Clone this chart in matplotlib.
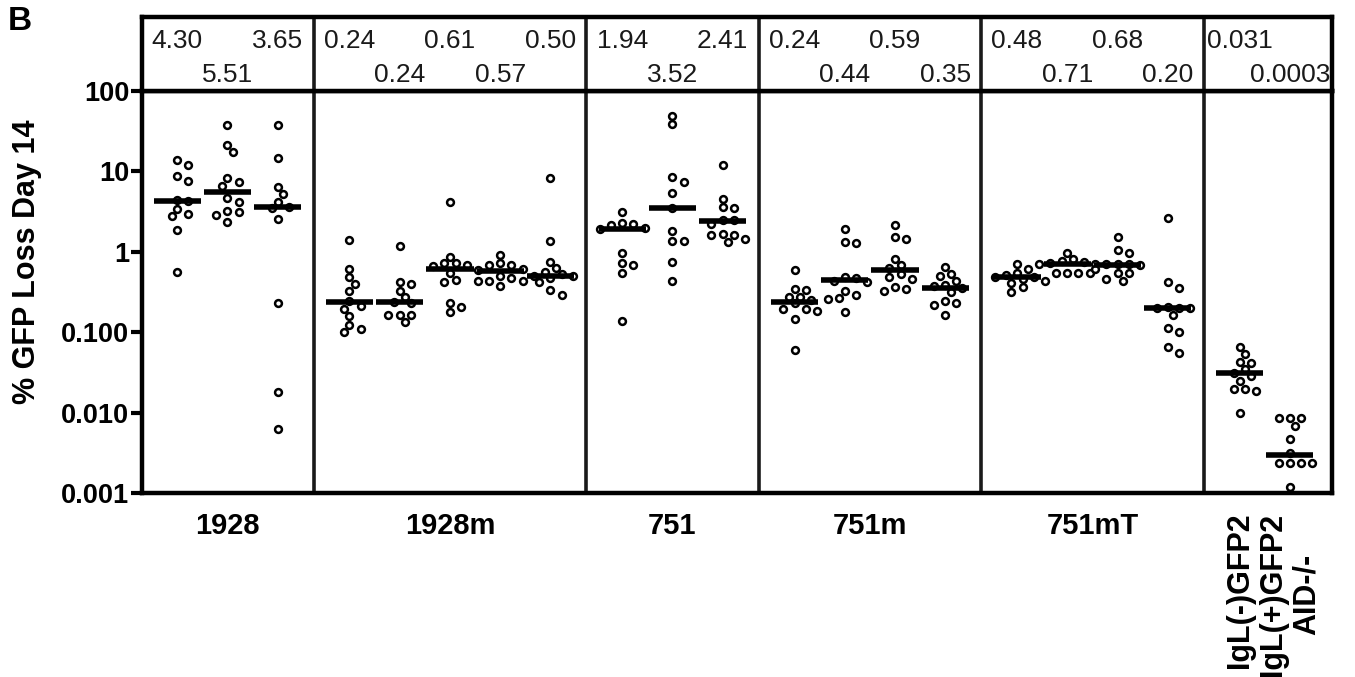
import numpy as np
import matplotlib
matplotlib.use('Agg')
import matplotlib.pyplot as plt

plt.rcParams['font.family'] = ['Liberation Sans', 'DejaVu Sans']

# Boxes (strains) and how many columns each one holds
box_names = ['1928', '1928m', '751', '751m', '751mT', '']
box_sizes = [3, 5, 3, 4, 4, 2]
control_names = ['IgL(-)GFP2', 'IgL(+)GFP2\nAID-/-']

# Medians printed in the header and the bar level for each column
median_labels = ['4.30', '5.51', '3.65',
                 '0.24', '0.24', '0.61', '0.57', '0.50',
                 '1.94', '3.52', '2.41',
                 '0.24', '0.44', '0.59', '0.35',
                 '0.48', '0.71', '0.68', '0.20',
                 '0.031', '0.0003']
median_values = [4.30, 5.51, 3.65,
                 0.24, 0.24, 0.61, 0.57, 0.50,
                 1.94, 3.52, 2.41,
                 0.24, 0.44, 0.59, 0.35,
                 0.48, 0.71, 0.68, 0.20,
                 0.031, 0.003]

# % GFP loss day 14, one list per column
c1928 = [
    [13.9, 12.0, 8.8, 7.6, 4.45, 4.30, 3.41, 2.93, 2.82, 1.87, 0.565],
    [37.5, 21.2, 17.2, 8.19, 7.44, 6.52, 4.63, 4.20, 3.25, 3.16, 2.87, 2.33],
    [37.9, 14.6, 6.33, 5.24, 4.2, 3.65, 3.48, 2.56, 0.233, 0.0182, 0.0063],
]
c1928m = [
    [1.40, 0.615, 0.489, 0.393, 0.324, 0.243, 0.211, 0.195, 0.158, 0.124, 0.111, 0.102],
    [1.18, 0.424, 0.393, 0.324, 0.275, 0.236, 0.232, 0.166, 0.163, 0.166, 0.134],
    [4.21, 0.869, 0.731, 0.717, 0.684, 0.664, 0.538, 0.445, 0.420, 0.228, 0.207, 0.177],
    [0.92, 0.731, 0.678, 0.615, 0.593, 0.678, 0.499, 0.475, 0.432, 0.430, 0.432, 0.374],
    [8.39, 1.36, 0.752, 0.621, 0.565, 0.523, 0.499, 0.499, 0.475, 0.420, 0.334, 0.289],
]
c751 = [
    [3.13, 2.30, 2.20, 2.13, 2.00, 1.94, 0.972, 0.716, 0.676, 0.538, 0.137],
    [49.2, 38.8, 8.55, 7.48, 5.35, 3.52, 1.82, 1.36, 1.36, 0.752, 0.432],
    [11.9, 4.59, 3.65, 3.55, 2.49, 2.49, 2.24, 1.65, 1.62, 1.62, 1.46, 1.32],
]
c751m = [
    [0.586, 0.340, 0.333, 0.275, 0.275, 0.255, 0.232, 0.197, 0.197, 0.186, 0.146, 0.0607],
    [1.94, 1.33, 1.30, 0.489, 0.466, 0.432, 0.419, 0.324, 0.294, 0.267, 0.260, 0.179],
    [2.13, 1.54, 1.43, 0.818, 0.676, 0.621, 0.537, 0.489, 0.461, 0.366, 0.340, 0.324],
    [0.650, 0.537, 0.507, 0.432, 0.381, 0.373, 0.35, 0.315, 0.243, 0.232, 0.221, 0.166],
]
c751mT = [
    [0.710, 0.604, 0.548, 0.508, 0.489, 0.48, 0.461, 0.432, 0.411, 0.363, 0.318],
    [0.973, 0.820, 0.766, 0.744, 0.716, 0.71, 0.697, 0.548, 0.538, 0.538, 0.538],
    [1.54, 1.04, 0.954, 0.709, 0.697, 0.697, 0.676, 0.604, 0.538, 0.538, 0.461, 0.432],
    [2.66, 0.420, 0.357, 0.207, 0.201, 0.20, 0.20, 0.166, 0.113, 0.0997, 0.0649, 0.0552],
]
c_controls = [
    [0.0648, 0.0536, 0.0426, 0.0413, 0.0348, 0.031, 0.0282, 0.0244, 0.0196, 0.0196, 0.0183, 0.0100],
    [0.00853, 0.00853, 0.00853, 0.00684, 0.00467, 0.0031, 0.00234, 0.00234, 0.00234, 0.00234, 0.00118],
]
columns = c1928 + c1928m + c751 + c751m + c751mT + c_controls

yticks = [0.001, 0.01, 0.1, 1, 10, 100]
ytick_labels = ['0.001', '0.010', '0.100', '1', '10', '100']

# column positions: one unit per column, extra gap between boxes
gap = 0.43
xpos = []
box_of_col = []
within = []
col = 0
for b, n in enumerate(box_sizes):
    for k in range(n):
        xpos.append(col + gap * b)
        box_of_col.append(b)
        within.append(k)
        col += 1
xpos = np.array(xpos)

dividers = []
start = 0
for n in box_sizes[:-1]:
    start += n
    dividers.append((xpos[start - 1] + xpos[start]) / 2)

W, H = 1355, 677
fig = plt.figure(figsize=(W / 100, H / 100), dpi=100)
ax = fig.add_axes([142 / W, (H - 493) / H, 1190 / W, (493 - 91) / H])
hax = fig.add_axes([142 / W, (H - 91) / H, 1190 / W, (91 - 17) / H])

xlim = (xpos[0] - 0.7, xpos[-1] + 0.84)
ax.set_xlim(*xlim)
ax.set_yscale('log')
ax.set_ylim(0.001, 100)


def swarm(vals, x0, step_px=5.6, min_d=8.0):
    vals = np.asarray(vals, dtype=float)
    pts = ax.transData.transform(np.column_stack([np.full(len(vals), x0), vals]))
    unit = ax.transData.transform([[x0 + 1, 1]])[0, 0] - ax.transData.transform([[x0, 1]])[0, 0]
    placed = []
    offs = np.zeros(len(vals))
    for i in np.argsort(-vals, kind='stable'):
        y = pts[i, 1]
        for k in [0, 1, -1, 2, -2, 3, -3, 4, -4, 5, -5, 6, -6]:
            dx = k * step_px
            if all((dx - px) ** 2 + (y - py) ** 2 >= min_d ** 2 for px, py in placed):
                break
        placed.append((dx, y))
        offs[i] = dx / unit
    return offs


for x0, vals, med in zip(xpos, columns, median_values):
    offs = swarm(vals, x0)
    ax.scatter(x0 + offs, vals, s=24, facecolors='white', edgecolors='black',
               linewidths=1.8, zorder=3)
    ax.hlines(med, x0 - 0.47, x0 + 0.47, colors='black', linewidth=4, zorder=4)

for d in dividers:
    ax.axvline(d, color='#1a1a1a', linewidth=2.6, zorder=1)
    hax.axvline(d, color='#1a1a1a', linewidth=2.6)

ax.set_yticks(yticks)
ax.set_yticklabels(ytick_labels)
ax.yaxis.set_minor_locator(matplotlib.ticker.NullLocator())
ax.tick_params(axis='y', length=8, width=3, pad=1, labelsize=19.5)
for t in ax.get_yticklabels():
    t.set_fontweight('bold')

# x labels: box names, plus one rotated label per control column
centers = []
labels = []
for b, name in enumerate(box_names):
    if name:
        centers.append(xpos[np.array(box_of_col) == b].mean())
        labels.append(name)
ctrl_x = list(xpos[np.array(box_of_col) == len(box_sizes) - 1])
ax.set_xticks(centers + ctrl_x)
ax.set_xticklabels(labels + control_names, fontweight='bold', fontsize=21)
for t in ax.get_xticklabels()[-2:]:
    t.set_rotation(90)
    t.set_va('top')
    t.set_ha('center')
    t.set_multialignment('center')
    t.set_fontsize(22)
ax.tick_params(axis='x', length=0, pad=14)

for s in ax.spines.values():
    s.set_linewidth(3.2)

ax.set_ylabel('% GFP Loss Day 14', fontsize=22, fontweight='bold')
ax.yaxis.set_label_coords(-0.084, 0.575)

# header box with the medians
hax.set_xlim(*xlim)
hax.set_ylim(0, 1)
hax.set_xticks([])
hax.set_yticks([])
for s in hax.spines.values():
    s.set_linewidth(3.2)
for x0, lab, k in zip(xpos, median_labels, within):
    y = 0.67 if k % 2 == 0 else 0.22
    hax.text(x0, y, lab, ha='center', va='center', fontsize=19, color='#1a1a1a')

fig.text(8 / W, 1 - 6 / H, 'B', fontsize=24, fontweight='bold', va='top', ha='left')

fig.savefig('out.png', dpi=100)
